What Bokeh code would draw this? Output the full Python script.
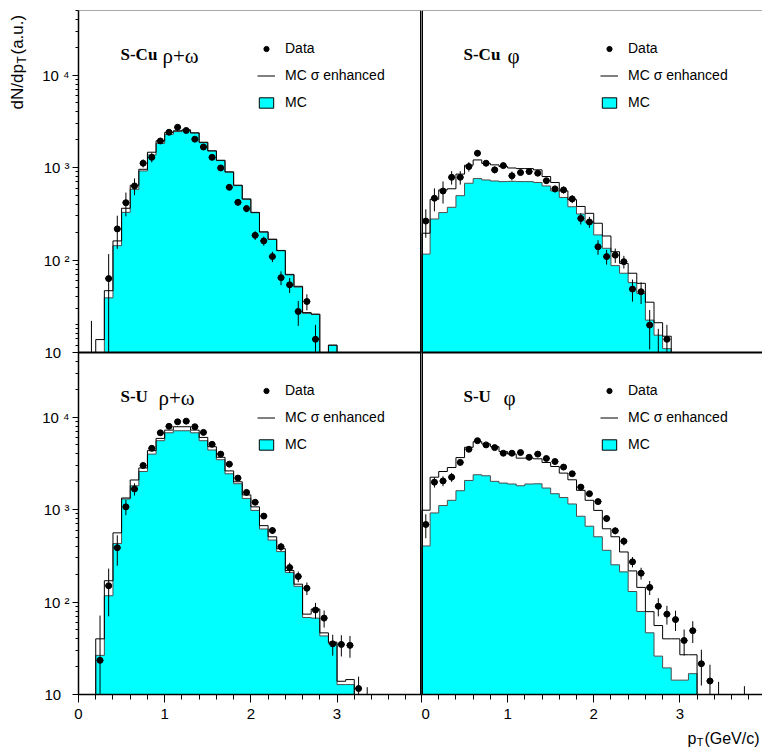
import numpy as np
from bokeh.plotting import figure
from bokeh.layouts import row, column
from bokeh.models import FixedTicker, Span, Label, Legend, LegendItem, Range1d, LogScale
from bokeh.embed import file_html
from bokeh.resources import INLINE

nan = float("nan")
BIN = 0.1  # GeV/c, histogram bin width (bins start at pT = 0)

# ---------------- S-Cu  rho+omega ----------------
cu_rho_mc = [0, 0, 0, 39, 143, 328, 582, 920, 1371, 1830, 2290, 2450, 2500, 2360, 1860,
             1510, 1190, 890, 638, 454, 325, 200, 167, 126, 69, 51, 26.5, 25.8, 0, 12]
cu_rho_enh = [0, 0, 13.8, 46.6, 161, 363, 643, 958, 1466, 1950, 2400, 2500, 2560, 2380, 1880,
              1520, 1200, 900, 645, 458, 328, 202, 168, 127, 70, 52, 27, 26, 0, 12]
cu_rho_data = [nan, 6, nan, 63, 217, 417, 633, 1114, 1290, 1940, 2410, 2730, 2520, 2030,
               1670, 1290, 991, 612, 421, 360, 185, 161, 109, 64.5, 54, 27.8, 35.6, 13.9]
cu_rho_err = [nan, 16, nan, 53, 85, 120, 130, 110, 150, 80, 80, 80, 70, 70,
              60, 60, 50, 40, 35, 30, 20, 18, 14, 11, 10, 8.4, 7, 6]

# ---------------- S-Cu  phi ----------------
cu_phi_mc = [116, 278, 326, 372, 497, 677, 760, 735, 716, 705, 710, 705, 705, 690, 633,
             560, 475, 377, 315, 256, 187, 134, 87, 72, 57, 43.5, 22.4, 15.4, 11]
cu_phi_enh = [195, 454, 574, 590, 850, 1060, 1210, 1110, 1070, 1025, 990, 975, 975, 945, 800,
              690, 560, 450, 380, 320, 250, 182, 123, 92, 72, 56, 35, 21, 15]
cu_phi_data = [264, 466, 558, 785, 785, 1025, 1430, 1115, 945, 1050, 815, 883, 905, 870, 722,
               588, 573, 458, 282, 258, 139, 109, 113, 96, 48.5, 45.4, 19.8, 8, 13.9]
cu_phi_err = [90, 130, 150, 130, 130, 120, 100, 80, 80, 60, 90, 60, 60, 50, 50,
              50, 50, 45, 40, 35, 25, 20, 20, 15, 13, 12, 9, 10, 6]

# ---------------- S-U  rho+omega ----------------
u_rho_mc = [0, 0, 26.5, 117, 430, 1300, 1810, 2580, 3980, 5560, 6770, 7120, 7120, 6770, 5560,
            4410, 3460, 2440, 1905, 1320, 980, 617, 468, 351, 209, 148, 68, 67, 43, 35.4, 12.8, 12.8]
u_rho_enh = [0, 0, 40, 170, 560, 1335, 2090, 2820, 4340, 5890, 7240, 7870, 7870, 7240, 6030,
             4790, 3680, 2620, 2000, 1440, 1070, 670, 508, 378, 219, 156, 74, 84, 46.4, 36.8, 13.9, 14.5]
u_rho_data = [nan, nan, 23.4, 150, 387, 1070, 1670, 3000, 4600, 6770, 7950, 8900, 9050, 7870,
              6840, 5080, 3980, 3100, 2190, 1535, 1200, 850, 594, 396, 236, 189, 141, 82, 67,
              35.3, 34.8, 34, 11.6, 6]
u_rho_err = [nan, nan, 48, 80, 140, 200, 250, 200, 200, 200, 200, 200, 200, 200,
             200, 200, 150, 150, 120, 100, 80, 60, 50, 40, 30, 25, 22, 16, 14,
             9, 9, 9, 4, 6]

# ---------------- S-U  phi ----------------
u_phi_mc = [404, 920, 1105, 1260, 1600, 2065, 2380, 2320, 2020, 1935, 1890, 1810, 1890, 1900,
            1710, 1485, 1350, 1150, 847, 661, 508, 363, 253, 212, 130, 79, 46.5, 26, 19.4,
            14.3, 14.3, 16.8]
u_phi_enh = [985, 2240, 2580, 2850, 3650, 4720, 5430, 5130, 4790, 4240, 3980, 3600, 3600, 3540,
             3230, 2925, 2480, 2100, 1615, 1260, 980, 620, 508, 348, 217, 144, 78.7, 55.7, 40,
             40, 26.9, 26.9]
u_phi_data = [690, 1980, 2040, 2240, 3240, 4490, 5560, 5010, 4680, 4070, 4070, 4140, 3680, 3980,
              3570, 3310, 2880, 2440, 1750, 1485, 1220, 800, 590, 455, 272, 205, 144, 90, 74,
              64.6, 38.4, 49, 21.5, 14, 6, nan, nan, 5]
u_phi_err = [200, 250, 250, 250, 200, 200, 200, 180, 180, 160, 160, 160, 150, 150,
             150, 140, 130, 120, 100, 90, 80, 60, 50, 45, 35, 30, 25, 20, 17,
             16, 12, 13, 9, 7, 7.7, nan, nan, 7.3]

y_ticks = [10, 100, 1000, 10000]
y_tick_labels = ["10\u2007", "10\u00a0\u00b2", "10\u00a0\u00b3", "10\u00a0\u2074"]
x_ticks = [0, 1, 2, 3]

Y_MIN, Y_MAX = 10, 5e4
XERR = 0.04
CYAN = "#00ffff"
SANS = "Liberation Sans"
SERIF = "Liberation Serif"
HALF_H = 342                  # frame height of one panel
TOP_B, BOT_B = 10, 34         # borders of the column figures
COL_H = TOP_B + 2 * HALF_H + BOT_B
# the upper panel uses the default y range, the lower panel an extra range that is
# shifted by this factor, so that each fills its own half of the column frame
LOW_SHIFT = Y_MIN / Y_MAX


def style_y_axis(ax):
    minor = [m * 10 ** k for k in range(1, 5) for m in range(2, 10)]
    ticks = y_ticks + [t * LOW_SHIFT for t in y_ticks]
    ax.ticker = FixedTicker(ticks=ticks, minor_ticks=minor + [m * LOW_SHIFT for m in minor])
    ax.axis_line_color = "black"
    ax.axis_line_width = 1.5
    ax.major_tick_out = 6
    ax.major_tick_in = 0
    ax.minor_tick_out = 3
    ax.minor_tick_in = 0
    ax.major_tick_line_color = "black"
    ax.minor_tick_line_color = "black"
    ax.major_label_overrides = dict(zip(ticks, y_tick_labels + y_tick_labels))
    ax.major_label_standoff = 3
    ax.major_label_text_font = SANS
    ax.major_label_text_font_size = "15px"
    ax.major_label_text_color = "black"


def make_column(width, border_left, xmax, show_y):
    p = figure(width=width, height=COL_H, x_range=Range1d(0, xmax),
               y_range=Range1d(Y_MIN * LOW_SHIFT, Y_MAX), y_axis_type="log",
               x_axis_location="below", y_axis_location="left" if show_y else None,
               toolbar_location=None, output_backend="svg",
               min_border_left=border_left, min_border_right=0,
               min_border_top=TOP_B, min_border_bottom=BOT_B)
    p.extra_y_ranges = {"lower": Range1d(Y_MIN, Y_MAX / LOW_SHIFT)}
    p.extra_y_scales = {"lower": LogScale()}
    p.outline_line_color = None
    p.grid.grid_line_color = None
    p.background_fill_color = "white"
    p.border_fill_color = "white"

    ax = p.xaxis[0]
    ax.ticker = FixedTicker(ticks=x_ticks, minor_ticks=[round(0.2 * i, 1) for i in range(0, 20)])
    ax.axis_line_color = "black"
    ax.axis_line_width = 1.5
    ax.major_tick_out = 8
    ax.major_tick_in = 0
    ax.minor_tick_out = 5
    ax.minor_tick_in = 0
    ax.major_tick_line_color = "black"
    ax.minor_tick_line_color = "black"
    ax.major_label_standoff = 6
    ax.major_label_text_font = SANS
    ax.major_label_text_font_size = "15px"
    ax.major_label_text_color = "black"

    if show_y:
        style_y_axis(p.yaxis[0])

    p.add_layout(Span(location=Y_MAX, dimension="width", line_color="#555555", line_width=1))
    p.add_layout(Span(location=Y_MIN, dimension="width", line_color="black", line_width=2))
    return p


def outline(vals, floor):
    e = np.arange(len(vals) + 1) * BIN
    v = np.where(vals > 0, vals, floor)
    xs = np.concatenate([[e[0]], np.repeat(e, 2)[1:-1], [e[-1]]])
    ys = np.concatenate([[floor], np.repeat(v, 2), [floor]])
    return xs, ys


def draw_panel(p, upper, name, particle, mc, enh, data, err, greek_x):
    if upper:
        kw = {}
        floor = Y_MIN                      # upper panel stops at the panel boundary
        hidden = Y_MIN * LOW_SHIFT / 10
        off = HALF_H
    else:
        kw = {"y_range_name": "lower"}
        floor = 1.0
        hidden = Y_MIN / 10
        off = 0

    mc = np.array(mc, dtype=float)
    enh = np.array(enh, dtype=float)
    xs, ys = outline(mc, floor)
    p.varea(x=xs, y1=floor, y2=ys, fill_color=CYAN, **kw)
    p.line(xs, ys, line_color="#4d4d4d", line_width=1, **kw)
    xs, ys = outline(enh, floor)
    enh_r = p.line(xs, ys, line_color="black", line_width=1, **kw)

    d = np.array(data, dtype=float)
    er = np.array(err, dtype=float)
    xc = (np.arange(len(d)) + 0.5) * BIN
    d_vis = np.where(d >= Y_MIN, d, np.nan)
    lo = np.maximum(d - er, floor)
    hi = d + er
    p.segment(x0=xc, y0=lo, x1=xc, y1=hi, line_color="black", line_width=1, **kw)
    p.segment(x0=xc - XERR, y0=d_vis, x1=xc + XERR, y1=d_vis, line_color="black",
              line_width=1, **kw)
    sc = p.scatter(xc, d_vis, size=6, marker="circle", fill_color="black",
                   line_color="black", **kw)

    # legend proxy for the MC box (degenerate, outside the visible range)
    e0 = np.arange(1) * BIN
    proxy = p.quad(left=e0, right=e0, bottom=[hidden], top=[hidden], fill_color=CYAN,
                   line_color="black", **kw)

    legend = Legend(items=[LegendItem(label="Data", renderers=[sc]),
                           LegendItem(label="MC σ enhanced", renderers=[enh_r]),
                           LegendItem(label="MC", renderers=[proxy])],
                    location=(179, 242 + off), orientation="vertical", padding=0, margin=0,
                    spacing=11, glyph_width=18, glyph_height=13, label_height=13,
                    label_standoff=10, label_text_font=SANS, label_text_font_size="14px",
                    label_text_color="black",
                    border_line_color=None, background_fill_alpha=0)
    p.add_layout(legend)

    p.add_layout(Label(x=42, y=HALF_H - 44 + off, x_units="screen", y_units="screen", text=name,
                       text_font=SERIF, text_font_style="bold", text_font_size="17px",
                       text_color="black", text_baseline="middle", text_align="left"))
    p.add_layout(Label(x=greek_x, y=HALF_H - 45 + off, x_units="screen", y_units="screen",
                       text=particle, text_font=SERIF, text_font_size="21px",
                       text_color="black", text_baseline="middle", text_align="left"))


LEFT_W, LEFT_BORDER, LEFT_XMAX = 389, 46, 3.98
RIGHT_W, RIGHT_XMAX = 341, 3.96
YT_W = 32

left = make_column(LEFT_W, LEFT_BORDER, LEFT_XMAX, True)
right = make_column(RIGHT_W, 0, RIGHT_XMAX, False)

draw_panel(left, True, "S-Cu", "ρ+ω", cu_rho_mc, cu_rho_enh, cu_rho_data, cu_rho_err, 84)
draw_panel(right, True, "S-Cu", "φ", cu_phi_mc, cu_phi_enh, cu_phi_data, cu_phi_err, 86)
draw_panel(left, False, "S-U", "ρ+ω", u_rho_mc, u_rho_enh, u_rho_data, u_rho_err, 80)
draw_panel(right, False, "S-U", "φ", u_phi_mc, u_phi_enh, u_phi_data, u_phi_err, 82)

left.add_layout(Span(location=LEFT_XMAX, dimension="height", line_color="black", line_width=3))
right.add_layout(Span(location=0, dimension="height", line_color="black", line_width=3))


def text_panel(width, height):
    t = figure(width=width, height=height, x_range=Range1d(0, 1), y_range=Range1d(0, 1),
               x_axis_location=None, y_axis_location=None, toolbar_location=None,
               output_backend="svg", min_border=0)
    t.outline_line_color = None
    t.grid.grid_line_color = None
    t.border_fill_color = "white"
    t.background_fill_color = "white"
    return t


# y-axis title (rotated, reads bottom-to-top, ends near the top of the frame)
YT_REF = COL_H - 35
ytitle = text_panel(YT_W, COL_H)
ytitle.add_layout(Label(x=17, y=YT_REF - 108, x_units="screen", y_units="screen", text="dN/dp",
                        angle=np.pi / 2, text_align="left", text_baseline="middle",
                        text_font=SANS, text_font_size="17px", text_color="black"))
ytitle.add_layout(Label(x=21, y=YT_REF - 62, x_units="screen", y_units="screen", text="T",
                        angle=np.pi / 2, text_align="left", text_baseline="middle",
                        text_font=SANS, text_font_size="12px", text_color="black"))
ytitle.add_layout(Label(x=17, y=YT_REF - 53, x_units="screen", y_units="screen", text="(a.u.)",
                        angle=np.pi / 2, text_align="left", text_baseline="middle",
                        text_font=SANS, text_font_size="17px", text_color="black"))

# x-axis title (bottom right)
XT_H = 20
xtitle = text_panel(RIGHT_W, XT_H)
xtitle.add_layout(Label(x=338, y=10, x_units="screen", y_units="screen", text="(GeV/c)",
                        text_align="right", text_baseline="middle",
                        text_font=SANS, text_font_size="16px", text_color="black"))
xtitle.add_layout(Label(x=282, y=7, x_units="screen", y_units="screen", text="T",
                        text_align="right", text_baseline="middle",
                        text_font=SANS, text_font_size="11px", text_color="black"))
xtitle.add_layout(Label(x=275, y=10, x_units="screen", y_units="screen", text="p",
                        text_align="right", text_baseline="middle",
                        text_font=SANS, text_font_size="16px", text_color="black"))

layout = row(ytitle, left, column(right, xtitle))

open("out.html", "w").write(file_html(layout, INLINE))
